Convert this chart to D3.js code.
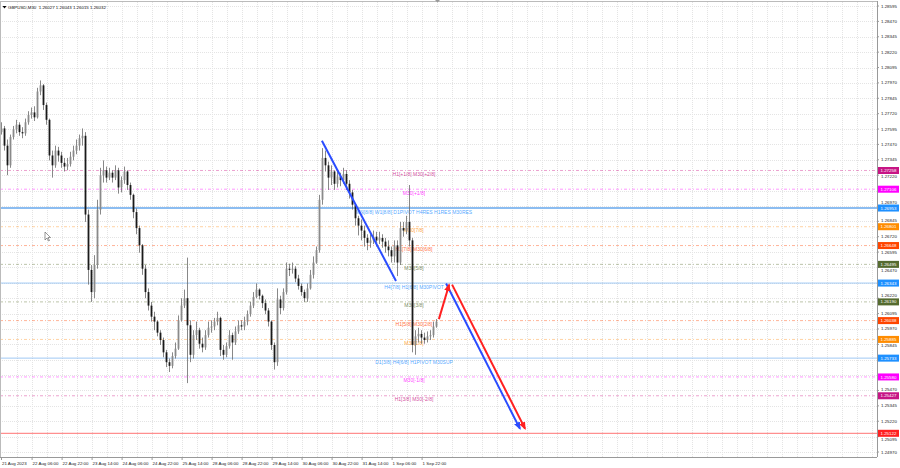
<!DOCTYPE html>
<html><head><meta charset="utf-8">
<script src="https://cdn.jsdelivr.net/npm/d3@7"></script>
<style>html,body{margin:0;padding:0;background:#fff;overflow:hidden}text{font-family:"Liberation Sans",Arial,sans-serif}</style>
</head><body><svg id="c" width="900" height="468"></svg>
<script>
// ---- candle data (aggregated from the M30 chart) ----
const opens = [1.2757,1.2760,1.2746,1.2730,1.2753,1.2759,1.2763,1.2757,1.2756,1.2765,1.2771,1.2773,1.2769,1.2790,1.2795,1.2779,1.2767,1.2738,1.2730,1.2742,1.2738,1.2732,1.2729,1.2731,1.2737,1.2742,1.2746,1.2752,1.2754,1.2690,1.2645,1.2627,1.2649,1.2694,1.2722,1.2726,1.2720,1.2724,1.2720,1.2726,1.2712,1.2718,1.2725,1.2714,1.2706,1.2692,1.2679,1.2665,1.2646,1.2627,1.2616,1.2607,1.2603,1.2594,1.2588,1.2578,1.2570,1.2567,1.2575,1.2581,1.2604,1.2616,1.2622,1.2600,1.2576,1.2592,1.2596,1.2585,1.2582,1.2592,1.2598,1.2599,1.2603,1.2606,1.2580,1.2576,1.2583,1.2592,1.2586,1.2595,1.2600,1.2599,1.2603,1.2609,1.2616,1.2623,1.2629,1.2624,1.2618,1.2612,1.2603,1.2584,1.2570,1.2621,1.2614,1.2627,1.2646,1.2645,1.2646,1.2638,1.2632,1.2627,1.2622,1.2630,1.2641,1.2651,1.2661,1.2702,1.2736,1.2730,1.2720,1.2725,1.2715,1.2721,1.2718,1.2723,1.2715,1.2708,1.2698,1.2687,1.2681,1.2677,1.2671,1.2667,1.2669,1.2672,1.2669,1.2671,1.2668,1.2664,1.2661,1.2656,1.2665,1.2651,1.2679,1.2677,1.2684,1.2669,1.2584,1.2591,1.2593,1.2590,1.2588,1.2591,1.2592,1.2599];
const highs = [1.2765,1.2762,1.2751,1.2755,1.2762,1.2767,1.2765,1.2761,1.2768,1.2774,1.2777,1.2778,1.2793,1.2799,1.2796,1.2781,1.2768,1.2742,1.2746,1.2745,1.2741,1.2736,1.2736,1.2741,1.2746,1.2751,1.2755,1.2760,1.2757,1.2694,1.2649,1.2657,1.2702,1.2728,1.2734,1.2729,1.2728,1.2726,1.2730,1.2728,1.2721,1.2729,1.2726,1.2716,1.2707,1.2695,1.2681,1.2666,1.2649,1.2630,1.2619,1.2611,1.2604,1.2596,1.2590,1.2580,1.2573,1.2578,1.2586,1.2608,1.2622,1.2629,1.2655,1.2604,1.2596,1.2603,1.2598,1.2590,1.2596,1.2603,1.2604,1.2606,1.2611,1.2607,1.2584,1.2586,1.2596,1.2594,1.2599,1.2604,1.2604,1.2607,1.2612,1.2619,1.2627,1.2634,1.2630,1.2625,1.2621,1.2614,1.2604,1.2586,1.2630,1.2624,1.2630,1.2651,1.2650,1.2651,1.2648,1.2641,1.2634,1.2629,1.2634,1.2645,1.2656,1.2664,1.2706,1.2744,1.2742,1.2733,1.2730,1.2726,1.2726,1.2724,1.2728,1.2726,1.2718,1.2710,1.2699,1.2689,1.2686,1.2681,1.2674,1.2674,1.2677,1.2676,1.2676,1.2674,1.2671,1.2669,1.2664,1.2669,1.2669,1.2684,1.2684,1.2689,1.2714,1.2671,1.2596,1.2598,1.2596,1.2594,1.2595,1.2596,1.2603,1.2605];
const lows = [1.2755,1.2742,1.2722,1.2728,1.2751,1.2756,1.2754,1.2752,1.2754,1.2763,1.2768,1.2766,1.2768,1.2787,1.2775,1.2763,1.2734,1.2720,1.2728,1.2733,1.2728,1.2725,1.2726,1.2729,1.2734,1.2739,1.2742,1.2746,1.2684,1.2633,1.2619,1.2622,1.2646,1.2690,1.2716,1.2716,1.2718,1.2716,1.2718,1.2707,1.2708,1.2715,1.2710,1.2702,1.2687,1.2674,1.2659,1.2641,1.2622,1.2612,1.2603,1.2596,1.2591,1.2584,1.2574,1.2566,1.2562,1.2565,1.2573,1.2580,1.2603,1.2614,1.2553,1.2570,1.2573,1.2588,1.2581,1.2578,1.2580,1.2590,1.2594,1.2596,1.2600,1.2575,1.2572,1.2574,1.2581,1.2572,1.2584,1.2593,1.2596,1.2596,1.2600,1.2607,1.2614,1.2622,1.2621,1.2614,1.2609,1.2599,1.2580,1.2564,1.2567,1.2609,1.2612,1.2625,1.2640,1.2642,1.2635,1.2629,1.2624,1.2619,1.2619,1.2629,1.2638,1.2650,1.2659,1.2698,1.2725,1.2710,1.2714,1.2710,1.2712,1.2713,1.2715,1.2710,1.2703,1.2694,1.2681,1.2673,1.2669,1.2664,1.2661,1.2663,1.2666,1.2664,1.2666,1.2663,1.2659,1.2656,1.2651,1.2651,1.2640,1.2649,1.2672,1.2674,1.2664,1.2578,1.2576,1.2586,1.2585,1.2585,1.2586,1.2588,1.2590,1.2598];
const closes = [1.2760,1.2746,1.2730,1.2753,1.2759,1.2763,1.2757,1.2756,1.2765,1.2771,1.2773,1.2769,1.2790,1.2795,1.2779,1.2767,1.2738,1.2730,1.2742,1.2738,1.2732,1.2729,1.2731,1.2737,1.2742,1.2746,1.2752,1.2754,1.2690,1.2645,1.2627,1.2649,1.2694,1.2722,1.2726,1.2720,1.2724,1.2720,1.2726,1.2712,1.2718,1.2725,1.2714,1.2706,1.2692,1.2679,1.2665,1.2646,1.2627,1.2616,1.2607,1.2603,1.2594,1.2588,1.2578,1.2570,1.2567,1.2575,1.2581,1.2604,1.2616,1.2622,1.2600,1.2576,1.2592,1.2596,1.2585,1.2582,1.2592,1.2598,1.2599,1.2603,1.2606,1.2580,1.2576,1.2583,1.2592,1.2586,1.2595,1.2600,1.2599,1.2603,1.2609,1.2616,1.2623,1.2629,1.2624,1.2618,1.2612,1.2603,1.2584,1.2570,1.2621,1.2614,1.2627,1.2646,1.2645,1.2646,1.2638,1.2632,1.2627,1.2622,1.2630,1.2641,1.2651,1.2661,1.2702,1.2736,1.2730,1.2720,1.2725,1.2715,1.2721,1.2718,1.2723,1.2715,1.2708,1.2698,1.2687,1.2681,1.2677,1.2671,1.2667,1.2669,1.2672,1.2669,1.2671,1.2668,1.2664,1.2661,1.2656,1.2665,1.2651,1.2679,1.2677,1.2684,1.2669,1.2584,1.2591,1.2593,1.2590,1.2588,1.2591,1.2592,1.2599,1.2603];

// ---- axis ticks ----
const yTickValues = [1.28595,1.28470,1.28345,1.28220,1.28095,1.27970,1.27845,1.27720,1.27595,1.27470,1.27345,1.27220,1.27095,1.26970,1.26845,1.26720,1.26595,1.26470,1.26345,1.26220,1.26095,1.25970,1.25845,1.25720,1.25595,1.25470,1.25345,1.25220,1.25095,1.24970];
const xTickIndex = [0,10.2,20.2,30.2,40.2,50.2,60.2,70.2,80.2,90.2,100.2,110.2,120.2,130.2,140.2];
const xTickLabels = ["21 Aug 2023","22 Aug 06:00","22 Aug 22:00","23 Aug 14:00","24 Aug 06:00","24 Aug 22:00","25 Aug 14:00","28 Aug 06:00","28 Aug 22:00","29 Aug 14:00","30 Aug 06:00","30 Aug 22:00","31 Aug 14:00","1 Sep 06:00","1 Sep 22:00"];

// ---- Murrey levels ----
const levelPrices = [1.27258,1.27106,1.26953,1.26801,1.26648,1.26495,1.26343,1.26190,1.26038,1.25885,1.25733,1.25580,1.25427,1.25122];
const levelLabels = ["H1[+1/8] M30[+2/8]","M30[+1/8]","MN[8/8] W1[8/8] D1PIVOT H4RES H1RES M30RES","M30[7/8]","H1[7/8] M30[6/8]","M30[5/8]","H4[7/8] H1[6/8] M30PIVOT","M30[3/8]","H1[5/8] M30[2/8]","M30[1/8]","D1[3/8] H4[6/8] H1PIVOT M30SUP","M30[-1/8]","H1[3/8] M30[-2/8]",""];
const levelKinds = ["crimson","magenta","bluemain","orange","orangered","olive","blue","olive","orangered","orange","blue","magenta","crimson","red"];

// ---- drawn objects (bar index, price) ----
const trendLine = [[106.8,1.2750],[131.5,1.2636]];
const arrowUpRed = [[145.8,1.2605],[149.2,1.2633]];
const arrowDownRed = [[150.2,1.2633],[174.5,1.2516]];
const arrowDownBlue = [[148.2,1.2634],[172.8,1.2516]];
const header = "GBPUSD,M30  1.26027 1.26043 1.26015 1.26032";

const W = 900, H = 468, plotR = 877, plotB = 457;
const style = {
  crimson:{line:"#d9479f",text:"#c71585",tag:"#c71585",w:1,dash:"3,2,1,2",op:0.5},
  magenta:{line:"#ff33ff",text:"#ff00ff",tag:"#ff00ff",w:1,dash:"3,2,1,2",op:0.5},
  bluemain:{line:"#7fb6f0",text:"#1e90ff",tag:"#1e90ff",w:2,dash:null,op:0.9},
  blue:{line:"#8fc0f2",text:"#1e90ff",tag:"#1e90ff",w:1,dash:null,op:0.85},
  orange:{line:"#ff9c33",text:"#ff8c00",tag:"#ff8c00",w:1,dash:"3,2,1,2",op:0.45},
  orangered:{line:"#ff6a33",text:"#ff4500",tag:"#ff4500",w:1,dash:"3,2,1,2",op:0.5},
  olive:{line:"#7a8a55",text:"#556b2f",tag:"#556b2f",w:1,dash:"3,2,1,2",op:0.5},
  red:{line:"#ff5050",text:"#ff0000",tag:"#ff2020",w:1,dash:null,op:0.8}
};

const svg = d3.select("#c");
const x = d3.scaleLinear().domain([0, 145]).range([1.5, 436.5]);
const y = d3.scaleLinear().domain([1.24970, 1.28595]).range([452, 6]);

svg.append("rect").attr("width",W).attr("height",H).attr("fill","#fff");

// grid
const g = svg.append("g");
const step = x(10) - x(0);
const gridX = d3.range(x(xTickIndex[1]) - step/2, plotR, step/2);
g.selectAll(".vg").data(gridX).join("line")
  .attr("x1",d=>Math.round(d)+0.5).attr("x2",d=>Math.round(d)+0.5).attr("y1",2).attr("y2",plotB)
  .attr("stroke","#e4e4e4").attr("stroke-width",1).attr("stroke-dasharray","1,1");
g.selectAll(".hg").data(yTickValues).join("line")
  .attr("x1",0).attr("x2",plotR).attr("y1",d=>Math.round(y(d))+0.5).attr("y2",d=>Math.round(y(d))+0.5)
  .attr("stroke","#e4e4e4").attr("stroke-width",1).attr("stroke-dasharray","1,1");

// levels
const lv = svg.append("g");
levelPrices.forEach((p,i)=>{
  const s = style[levelKinds[i]];
  const yy = y(p);
  lv.append("line").attr("x1",0).attr("x2",plotR).attr("y1",yy).attr("y2",yy)
    .attr("stroke",s.line).attr("stroke-width",s.w).attr("stroke-opacity",s.op)
    .attr("stroke-dasharray",s.dash);
  if(levelLabels[i]) lv.append("text").attr("x",x(137.5)).attr("y",yy+5.5)
    .attr("text-anchor","middle").attr("font-size",5).attr("fill",s.text).attr("fill-opacity",0.8)
    .text(levelLabels[i]);
});

// candles
const cg = svg.append("g");
const idx = d3.range(closes.length);
cg.selectAll(".wick").data(idx).join("line")
  .attr("x1",i=>x(i)).attr("x2",i=>x(i)).attr("y1",i=>y(highs[i])).attr("y2",i=>y(lows[i]))
  .attr("stroke","#6a6a6a").attr("stroke-width",0.8);
cg.selectAll(".body").data(idx).join("rect")
  .attr("x",i=>x(i)-0.9).attr("width",1.8)
  .attr("y",i=>y(Math.max(opens[i],closes[i])))
  .attr("height",i=>Math.max(0.8, Math.abs(y(opens[i])-y(closes[i]))))
  .attr("fill",i=>closes[i]>=opens[i]?"#8a8a8a":"#1a1a1a");

// markers
const defs = svg.append("defs");
[["ar","#ff2020"],["ab","#2a4cff"]].forEach(([id,c])=>{
  defs.append("marker").attr("id",id).attr("viewBox","0 0 10 10").attr("refX",8).attr("refY",5)
    .attr("markerWidth",4).attr("markerHeight",4).attr("orient","auto")
    .append("path").attr("d","M0,1 L10,5 L0,9 z").attr("fill",c);
});
const ln = d3.line().x(d=>x(d[0])).y(d=>y(d[1]));
svg.append("path").attr("d",ln(trendLine)).attr("stroke","#2a4cff").attr("stroke-width",2).attr("fill","none");
svg.append("path").attr("d",ln(arrowDownBlue)).attr("stroke","#2a4cff").attr("stroke-width",2).attr("fill","none").attr("marker-end","url(#ab)");
svg.append("path").attr("d",ln(arrowUpRed)).attr("stroke","#ff2020").attr("stroke-width",2).attr("fill","none").attr("marker-end","url(#ar)");
svg.append("path").attr("d",ln(arrowDownRed)).attr("stroke","#ff2020").attr("stroke-width",2).attr("fill","none").attr("marker-end","url(#ar)");

// frame
svg.append("line").attr("x1",0).attr("x2",plotR).attr("y1",1.5).attr("y2",1.5).attr("stroke","#bbb");
svg.append("line").attr("x1",plotR+0.5).attr("x2",plotR+0.5).attr("y1",1).attr("y2",plotB).attr("stroke","#999");
svg.append("line").attr("x1",0).attr("x2",plotR).attr("y1",plotB+0.5).attr("y2",plotB+0.5).attr("stroke","#999");
svg.append("line").attr("x1",0.5).attr("x2",0.5).attr("y1",1).attr("y2",plotB).attr("stroke","#bbb");

// y axis labels, kept clear of the price tags
const tagYs = levelPrices.map(p=>y(p));
const yLab = yTickValues.map(v=>{
  let yy = y(v), show = true;
  tagYs.forEach(t=>{
    const dy = yy - t;
    if (Math.abs(dy) < 2) show = false;
    else if (Math.abs(dy) < 6) yy = t + (dy < 0 ? -6 : 6);
  });
  return {v, yy, show};
}).filter(d=>d.show);
svg.append("g").selectAll("text").data(yLab).join("text")
  .attr("x",881).attr("y",d=>d.yy+1.5).attr("font-size",4.4).attr("fill","#222")
  .text(d=>d.v.toFixed(5));
svg.append("g").selectAll("line").data(yTickValues).join("line")
  .attr("x1",plotR).attr("x2",plotR+2).attr("y1",d=>y(d)).attr("y2",d=>y(d)).attr("stroke","#999");
const xa = svg.append("g");
xa.selectAll("text").data(xTickIndex).join("text")
  .attr("x",d=>x(d)+0.5).attr("y",465).attr("font-size",4.4).attr("fill","#222")
  .text((d,i)=>xTickLabels[i]);
xa.selectAll("line").data(xTickIndex).join("line")
  .attr("x1",d=>x(d)).attr("x2",d=>x(d)).attr("y1",plotB).attr("y2",plotB+3).attr("stroke","#999");

// price tags
const tg = svg.append("g");
levelPrices.forEach((p,i)=>{
  const s = style[levelKinds[i]];
  tg.append("rect").attr("x",878).attr("y",y(p)-3.5).attr("width",21).attr("height",7).attr("fill",s.tag);
  tg.append("text").attr("x",880.5).attr("y",y(p)+1.6).attr("font-size",4.4).attr("fill","#fff").text(p.toFixed(5));
});

// header
svg.append("path").attr("d","M2.5,6 L6.5,6 L4.5,8.5 z").attr("fill","#000");
svg.append("text").attr("x",8).attr("y",9).attr("font-size",4.4).attr("fill","#111").attr("xml:space","preserve").text(header);
// shift marker at top
svg.append("path").attr("d","M435,0 L440,0 L437.5,2.5 z").attr("fill","#999");
// mouse cursor
svg.append("path").attr("d","M45,232 L45,240 L47,238 L48.5,241 L49.5,240.5 L48,237.5 L50.5,237.5 z")
  .attr("fill","#fff").attr("stroke","#555").attr("stroke-width",0.6);
</script></body></html>
